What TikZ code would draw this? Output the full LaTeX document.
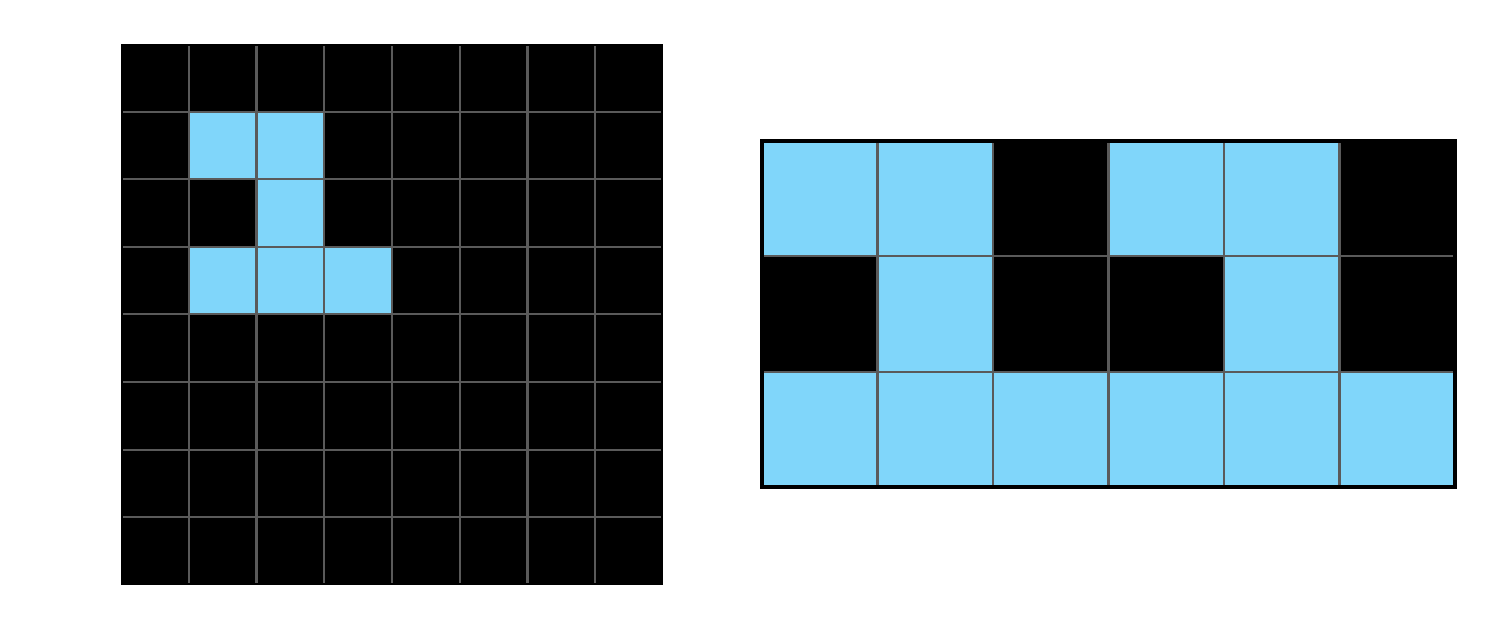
\documentclass[tikz,border=0pt]{standalone}
\usepackage{tikz}
\usetikzlibrary{calc}
\usepackage{color}
\definecolor{skyblue}{RGB}{128, 214, 250}
\definecolor{gridgray}{RGB}{90, 90, 90}

\begin{document}
\begin{tikzpicture}[x=0.01cm, y=-0.01cm]
            % Frame to ensure alignment:
            \useasboundingbox                                                 (0, 0) rectangle (1500, 629);
            % Left board: 8 x 8
            \fill[color=black]                                                (121, 44) rectangle (663, 585);
            \foreach \r/\c in {1/1, 1/2, 2/2, 3/1, 3/2, 3/3}
                \fill[color=skyblue] ({121+67.75*\c}, {44+67.6*\r}) rectangle ({121+67.75*(\c+1)}, {44+67.6*(\r+1)});
            \foreach \i in {1,...,7}
            {
                \draw[color=gridgray, line width=0.6pt]                       ({121+67.75*\i}, 46) -- ({121+67.75*\i}, 583);
                \draw[color=gridgray, line width=0.6pt]                       (123, {44+67.6*\i}) -- (661, {44+67.6*\i});
            }
            % Right board: 6 x 3
            \fill[color=black]                                                (762, 141) rectangle (1455, 487);
            \foreach \r/\c in {0/0, 0/1, 0/3, 0/4, 1/1, 1/4, 2/0, 2/1, 2/2, 2/3, 2/4, 2/5}
                \fill[color=skyblue] ({762+115.5*\c}, {141+115.33*\r}) rectangle ({762+115.5*(\c+1)}, {141+115.33*(\r+1)});
            \foreach \i in {1,...,5}
                \draw[color=gridgray, line width=0.6pt]                       ({762+115.5*\i}, 141) -- ({762+115.5*\i}, 487);
            \foreach \i in {1,2}
                \draw[color=gridgray, line width=0.6pt]                       (762, {141+115.33*\i}) -- (1455, {141+115.33*\i});
            \draw[color=black, line width=0.9pt]                              (762, 141) rectangle (1455, 487);
        \end{tikzpicture}
\end{document}
